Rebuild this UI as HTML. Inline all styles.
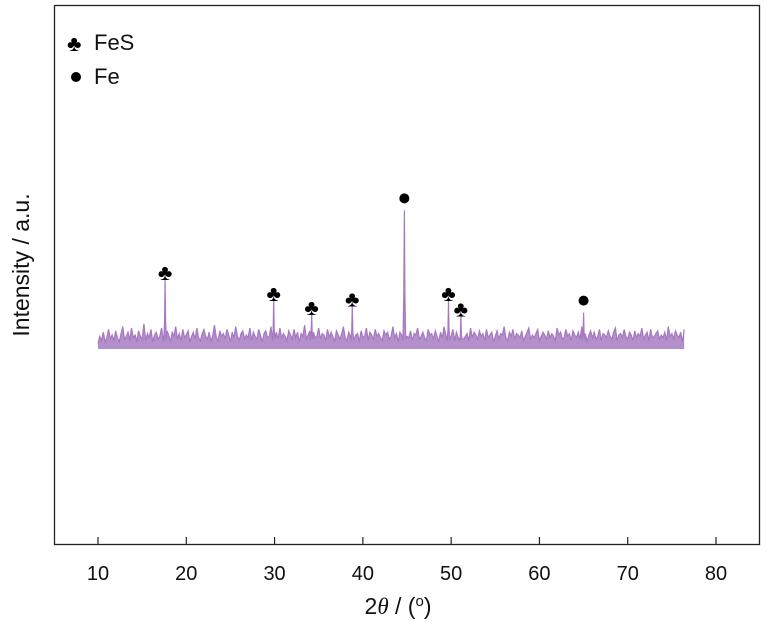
<!DOCTYPE html>
<html><head><meta charset="utf-8"><style>
body{margin:0;background:#fff;}
svg{display:block;font-family:"Liberation Sans",Arial,sans-serif;}
</style></head><body>
<svg id="chart" width="768" height="634" viewBox="0 0 768 634">
<rect x="54.5" y="5.5" width="705" height="539" fill="none" stroke="#222" stroke-width="1.3"/>
<g id="ticks"></g>
<g id="series"></g>
<g id="markers"></g>
<g>
<text x="67" y="51" font-size="22">♣</text>
<text x="94" y="50" font-size="22" fill="#111">FeS</text>
<circle cx="76" cy="77" r="5" fill="#000"/>
<text x="94" y="84" font-size="22" fill="#111">Fe</text>
</g>
<text transform="translate(29,265) rotate(-90)" text-anchor="middle" font-size="23" fill="#111">Intensity / a.u.</text>
<text x="398" y="614" text-anchor="middle" font-size="23" fill="#111">2<tspan font-style="italic" font-family="Liberation Serif">θ</tspan> / (<tspan dy="-8" font-size="15">o</tspan><tspan dy="8">)</tspan></text>
</svg>
<script>
const xTicks=[10,20,30,40,50,60,70,80];
const noiseStart=10, noiseStep=0.2;
const noise=[4,9,6,12,5,8,14,7,10,6,13,8,5,11,16,7,9,12,6,15,8,10,5,13,9,7,18,6,11,8,14,5,10,12,7,9,15,6,8,13,10,5,12,9,16,7,11,6,14,8,10,13,5,9,12,7,15,8,6,11,14,9,7,12,5,10,17,8,6,13,9,11,7,14,10,5,12,8,16,9,6,11,13,7,10,8,15,6,12,9,7,14,10,5,11,13,8,9,16,6,10,12,7,15,8,11,9,6,13,10,7,14,8,12,5,11,9,17,7,10,13,6,12,8,9,15,7,11,10,6,14,8,12,9,5,13,10,7,11,16,8,6,12,9,14,7,10,11,5,13,8,9,15,6,12,10,7,14,9,11,8,6,13,10,12,7,9,16,8,11,5,12,10,7,14,9,8,13,6,11,10,15,7,9,12,8,6,14,10,11,7,13,9,5,12,8,16,10,7,11,9,14,6,12,8,10,13,7,9,11,6,15,8,12,10,7,13,9,11,6,14,8,10,12,5,9,13,7,11,10,16,8,6,12,9,14,7,11,10,8,13,6,9,12,15,7,10,8,11,14,6,9,12,10,7,13,8,11,9,6,15,10,12,7,8,14,9,11,6,13,10,8,12,7,16,9,11,5,10,13,8,12,7,9,14,6,11,10,8,13,9,7,12,15,6,10,11,8,14,9,7,12,10,6,13,8,11,9,15,7,10,12,6,14,8,9,11,13,7,10,8,12,6,16,9,11,7,13,10,8,12,5,14];
const fesPos=[17.6,29.9,34.2,38.8,49.7,51.1];
const fesHeight=[50,35,25,31,35,24];
const fePos=[44.7,65.0];
const feHeight=[99,26];
const NS="http://www.w3.org/2000/svg";
const X0=10,X1=80,PX0=98,PX1=716,BASE=349;
const xs=v=>PX0+(v-X0)*(PX1-PX0)/(X1-X0);
const ys=v=>BASE-v*1.4;
const tg=document.getElementById('ticks');
xTicks.forEach(t=>{
 const l=document.createElementNS(NS,'line');
 
 
 l.setAttribute('x1',xs(t));l.setAttribute('x2',xs(t));l.setAttribute('y1',544);l.setAttribute('y2',537);
 l.setAttribute('stroke','#222');l.setAttribute('stroke-width','1.2');tg.appendChild(l);
 const tx=document.createElementNS(NS,'text');
 
 
 tx.setAttribute('x',xs(t));tx.setAttribute('y',580);tx.setAttribute('text-anchor','middle');
 tx.setAttribute('font-size','20');tx.setAttribute('fill','#111');tx.textContent=t;tg.appendChild(tx);
});
let pts=[];
noise.forEach((v,i)=>{const x=noiseStart+i*noiseStep; if(x<=X1+0.001) pts.push([x,v]);});
const peaks=fesPos.map((p,i)=>[p,fesHeight[i]]).concat(fePos.map((p,i)=>[p,feHeight[i]]));
peaks.forEach(([p,h])=>{
 pts=pts.filter(q=>Math.abs(q[0]-p)>0.15);
 pts.push([p-0.15,6]);pts.push([p-0.06,h*0.4]);pts.push([p,h]);pts.push([p+0.06,h*0.4]);pts.push([p+0.15,7]);
});
pts.sort((a,b)=>a[0]-b[0]);
const sg=document.getElementById('series');
const d=pts.map((p,i)=>(i?'L':'M')+xs(p[0]).toFixed(1)+','+ys(p[1]).toFixed(1)).join('');
const area=document.createElementNS(NS,'path');


area.setAttribute('d',d+'L'+xs(pts[pts.length-1][0])+','+BASE+'L'+xs(pts[0][0])+','+BASE+'Z');
area.setAttribute('fill','#a77dc2');area.setAttribute('opacity','0.85');sg.appendChild(area);
const line=document.createElementNS(NS,'path');


line.setAttribute('d',d);line.setAttribute('fill','none');line.setAttribute('stroke','#a578c0');line.setAttribute('stroke-width','1.2');sg.appendChild(line);
const mg=document.getElementById('markers');
fesPos.forEach((p,i)=>{
 const t=document.createElementNS(NS,'text');
 
 
 t.setAttribute('x',xs(p));t.setAttribute('y',ys(fesHeight[i])+1);t.setAttribute('text-anchor','middle');
 t.setAttribute('font-size','22');t.textContent='♣';mg.appendChild(t);
});
fePos.forEach((p,i)=>{
 const c=document.createElementNS(NS,'circle');
 
 
 c.setAttribute('cx',xs(p));c.setAttribute('cy',ys(feHeight[i])-12);c.setAttribute('r',5);c.setAttribute('fill','#000');mg.appendChild(c);
});
</script>
</body></html>
